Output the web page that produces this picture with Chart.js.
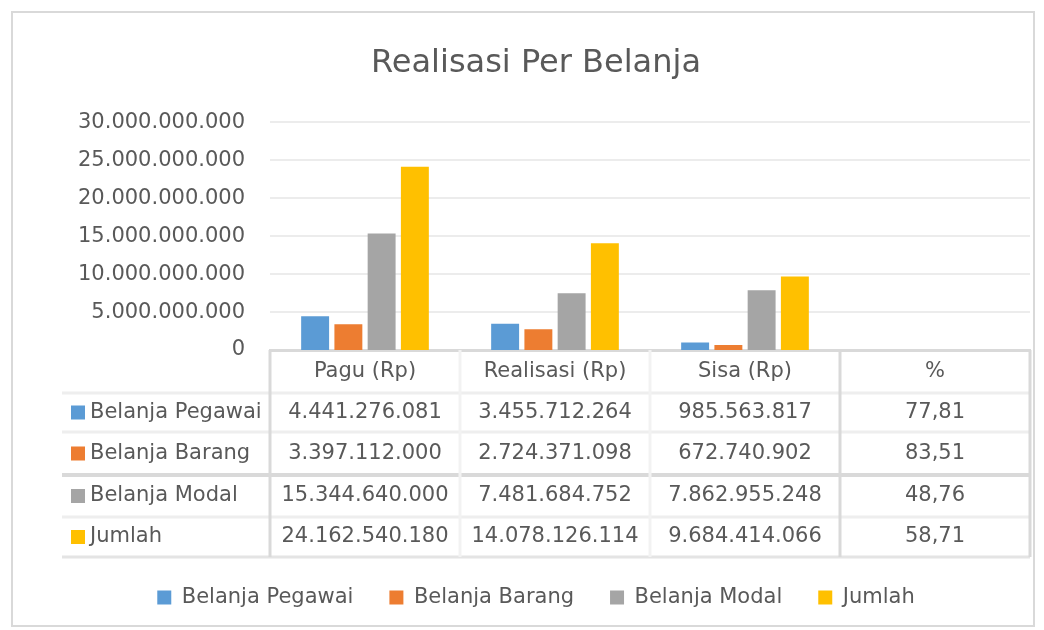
<!DOCTYPE html>
<html>
<head>
<meta charset="utf-8">
<script src="https://cdn.jsdelivr.net/npm/chart.js@4/dist/chart.umd.min.js"></script>
<style>
  html, body { margin: 0; padding: 0; background: #fff; }
  #wrap { width: 1044px; height: 630px; position: relative; }
</style>
</head>
<body>
<div id="wrap"><canvas id="chartBelanja" width="1044" height="630"></canvas></div>
<script>
// ================= DATA =================
const categories = ['Pagu (Rp)', 'Realisasi (Rp)', 'Sisa (Rp)', '%'];
const seriesNames = ['Belanja Pegawai', 'Belanja Barang', 'Belanja Modal', 'Jumlah'];
const belanjaPegawai = [4441276081, 3455712264, 985563817, 77.81];
const belanjaBarang = [3397112000, 2724371098, 672740902, 83.51];
const belanjaModal = [15344640000, 7481684752, 7862955248, 48.76];
const jumlah = [24162540180, 14078126114, 9684414066, 58.71];
const yTicks = [0, 5000000000, 10000000000, 15000000000, 20000000000, 25000000000, 30000000000];

const colors = ['#5b9bd5', '#ed7d31', '#a5a5a5', '#ffc000'];
const textColor = '#595959';
const fontFamily = '"DejaVu Sans", sans-serif';
const fontSize = 21;

function rupiah(v) {
    return String(Math.round(v)).replace(/\B(?=(\d{3})+(?!\d))/g, '.');
}
function persen(v) {
    return v.toFixed(2).replace('.', ',');
}

// ================= TABEL DATA (bawah grafik) =================
const tablePlugin = {
    id: 'dataTable',
    beforeDraw(chart) {
        const ctx = chart.ctx;
        ctx.save();
        ctx.strokeStyle = '#d9d9d9';
        ctx.lineWidth = 2;
        ctx.strokeRect(12, 12, 1022, 614);
        ctx.restore();
    },
    afterDraw(chart) {
        const ctx = chart.ctx;
        const x = chart.scales.x;
        const area = chart.chartArea;
        const colW = x.width / categories.length;
        const tableLeft = 62;
        const rows = [area.bottom, 393, 432, 475, 517, 557];
        const series = [belanjaPegawai, belanjaBarang, belanjaModal, jumlah];

        ctx.save();
        // garis horizontal
        function hline(y, color, w) {
            ctx.strokeStyle = color; ctx.lineWidth = w;
            ctx.beginPath(); ctx.moveTo(tableLeft, y); ctx.lineTo(area.right, y); ctx.stroke();
        }
        hline(rows[1], '#eeeeee', 3);
        hline(rows[2], '#eeeeee', 3);
        hline(rows[3], '#d9d9d9', 4);
        hline(rows[4], '#eeeeee', 3);
        hline(rows[5], '#e4e4e4', 3);

        // garis vertikal
        for (let i = 0; i <= categories.length; i++) {
            const vx = area.left + i * colW;
            const strong = (i === 0 || i >= categories.length - 1);
            ctx.strokeStyle = strong ? '#d9d9d9' : '#f2f2f2';
            ctx.lineWidth = 3;
            ctx.beginPath(); ctx.moveTo(vx, rows[0]); ctx.lineTo(vx, rows[5]); ctx.stroke();
        }

        ctx.font = fontSize + 'px ' + fontFamily;
        ctx.fillStyle = textColor;
        ctx.textBaseline = 'middle';

        // header kolom
        ctx.textAlign = 'center';
        categories.forEach((c, i) => {
            ctx.fillText(c, x.getPixelForValue(i), (rows[0] + rows[1]) / 2);
        });

        // baris data
        series.forEach((vals, r) => {
            const cy = (rows[r + 1] + rows[r + 2]) / 2;
            ctx.fillStyle = colors[r];
            ctx.fillRect(71, cy - 7, 14, 14);
            ctx.fillStyle = textColor;
            ctx.textAlign = 'left';
            ctx.fillText(seriesNames[r], 90, cy);
            ctx.textAlign = 'center';
            vals.forEach((v, i) => {
                const txt = categories[i] === '%' ? persen(v) : rupiah(v);
                ctx.fillText(txt, x.getPixelForValue(i), cy);
            });
        });
        ctx.restore();
    }
};

// ================= GRAFIK =================
new Chart(document.getElementById('chartBelanja'), {
    type: 'bar',
    data: {
        labels: categories,
        datasets: [
            { label: seriesNames[0], data: belanjaPegawai, backgroundColor: colors[0] },
            { label: seriesNames[1], data: belanjaBarang, backgroundColor: colors[1] },
            { label: seriesNames[2], data: belanjaModal, backgroundColor: colors[2] },
            { label: seriesNames[3], data: jumlah, backgroundColor: colors[3] }
        ]
    },
    options: {
        responsive: false,
        animation: false,
        devicePixelRatio: 1,
        categoryPercentage: 0.7,
        barPercentage: 0.84,
        inflateAmount: 0,
        layout: { padding: { left: 42, right: 14, top: 0, bottom: 12 } },
        plugins: {
            title: {
                display: true,
                text: 'Realisasi Per Belanja',
                color: textColor,
                font: { family: fontFamily, size: 32, weight: 'normal' },
                padding: { top: 44, bottom: 40 }
            },
            legend: {
                position: 'bottom',
                labels: {
                    color: textColor,
                    font: { family: fontFamily, size: fontSize },
                    boxWidth: 14,
                    boxHeight: 14,
                    padding: 36
                }
            },
            tooltip: { enabled: false }
        },
        scales: {
            x: {
                display: true,
                grid: { display: false },
                border: { display: true, color: '#d9d9d9', width: 3 },
                ticks: { display: false },
                afterFit(scale) { scale.height = 201; }
            },
            y: {
                min: 0,
                max: yTicks[yTicks.length - 1],
                afterBuildTicks(scale) { scale.ticks = yTicks.map(v => ({ value: v })); },
                afterFit(scale) { scale.width = 228; },
                border: { display: false },
                grid: {
                    drawTicks: false,
                    color: '#ececec',
                    lineWidth: c => c.tick && c.tick.value === 0 ? 0 : 2
                },
                ticks: {
                    padding: 25,
                    color: textColor,
                    font: { family: fontFamily, size: fontSize },
                    callback: v => rupiah(v)
                }
            }
        }
    },
    plugins: [tablePlugin]
});
</script>
</body>
</html>
